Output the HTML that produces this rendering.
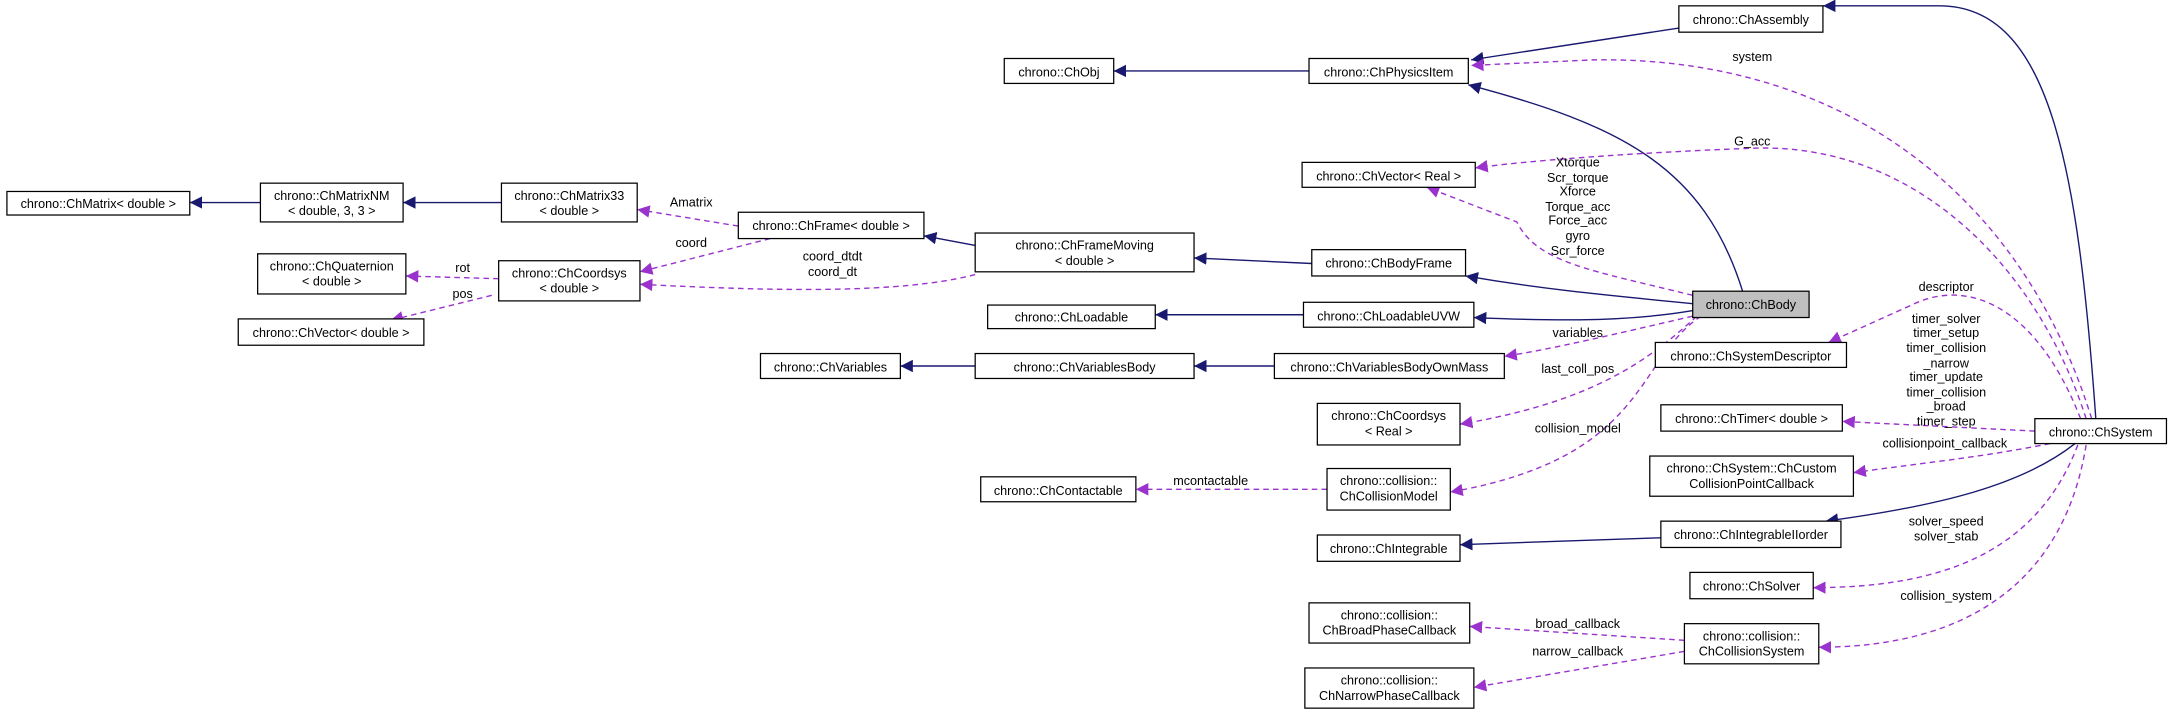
<!DOCTYPE html>
<html><head><meta charset="utf-8"><style>
html,body{margin:0;padding:0;background:#fff;}
svg{display:block;}
text{font-family:"Liberation Sans",sans-serif;font-size:9.1px;fill:#000;}
.n{fill:#fff;stroke:#000;stroke-width:0.9;}
.s{fill:none;stroke:#191970;stroke-width:1;}
.d{fill:none;stroke:#9a32cd;stroke-width:1;stroke-dasharray:4,3;}
</style></head><body>
<svg width="2172" height="714" viewBox="0 0 1568 515" xmlns="http://www.w3.org/2000/svg">
<defs>
<marker id="ab" viewBox="0 0 10 10" refX="10" refY="5" markerWidth="9" markerHeight="9" markerUnits="userSpaceOnUse" orient="auto"><path d="M0,0L10,5L0,10z" fill="#191970"/></marker>
<marker id="ap" viewBox="0 0 10 10" refX="10" refY="5" markerWidth="9" markerHeight="9" markerUnits="userSpaceOnUse" orient="auto"><path d="M0,0L10,5L0,10z" fill="#9a32cd"/></marker>
</defs>
<g text-anchor="middle">
<path class="s" marker-end="url(#ab)" d="M188,146L137,146"/>
<path class="s" marker-end="url(#ab)" d="M362,146L291,146"/>
<path class="s" marker-end="url(#ab)" d="M704,177L667,170"/>
<path class="s" marker-end="url(#ab)" d="M945,51L804,51"/>
<path class="s" marker-end="url(#ab)" d="M1212,20L1062,43"/>
<path class="s" marker-end="url(#ab)" d="M1258,210C1230,120 1170,90 1060,61"/>
<path class="s" marker-end="url(#ab)" d="M947,190L862,186"/>
<path class="s" marker-end="url(#ab)" d="M1222,219C1150,212 1110,208 1058,199"/>
<path class="s" marker-end="url(#ab)" d="M941,227L834,227"/>
<path class="s" marker-end="url(#ab)" d="M1222,224C1170,233 1110,231 1064,229"/>
<path class="s" marker-end="url(#ab)" d="M920,264L862,264"/>
<path class="s" marker-end="url(#ab)" d="M704,264L650,264"/>
<path class="s" marker-end="url(#ab)" d="M1513,302C1500,120 1480,4 1400,4L1316,4"/>
<path class="s" marker-end="url(#ab)" d="M1498,320C1460,350 1400,365 1318,376"/>
<path class="s" marker-end="url(#ab)" d="M1199,388L1054,393"/>
<path class="d" marker-end="url(#ap)" d="M533,163L460,151"/>
<path class="d" marker-end="url(#ap)" d="M556,172L462,196"/>
<path class="d" marker-end="url(#ap)" d="M704,198C650,212 560,210 462,205"/>
<path class="d" marker-end="url(#ap)" d="M360,201L293,199"/>
<path class="d" marker-end="url(#ap)" d="M355,213L282,231"/>
<path class="d" marker-end="url(#ap)" d="M1510,302C1460,140 1330,40 1150,43L1062,47"/>
<path class="d" marker-end="url(#ap)" d="M1506,302C1470,190 1380,100 1260,107C1180,110 1100,116 1065,121"/>
<path class="d" marker-end="url(#ap)" d="M1222,213C1150,195 1110,190 1095,160L1030,135"/>
<path class="d" marker-end="url(#ap)" d="M1502,302C1470,220 1420,200 1380,220L1320,247"/>
<path class="d" marker-end="url(#ap)" d="M1469,311L1330,304"/>
<path class="d" marker-end="url(#ap)" d="M1480,320C1430,330 1380,335 1338,341"/>
<path class="d" marker-end="url(#ap)" d="M1500,321C1470,400 1400,424 1309,424"/>
<path class="d" marker-end="url(#ap)" d="M1506,321C1490,420 1420,467 1313,467"/>
<path class="d" marker-end="url(#ap)" d="M1222,228C1170,240 1120,252 1086,257"/>
<path class="d" marker-end="url(#ap)" d="M1225,228C1190,260 1150,290 1054,306"/>
<path class="d" marker-end="url(#ap)" d="M1228,228C1180,260 1190,330 1047,355"/>
<path class="d" marker-end="url(#ap)" d="M958,353L820,353"/>
<path class="d" marker-end="url(#ap)" d="M1216,462L1061,452"/>
<path class="d" marker-end="url(#ap)" d="M1216,470L1064,496"/>
<rect class="n" x="5" y="138" width="132" height="17"/><text x="71" y="150">chrono::ChMatrix&lt; double &gt;</text>
<rect class="n" x="188" y="132" width="103" height="28"/><text x="239.5" y="144">chrono::ChMatrixNM</text><text x="239.5" y="155">&lt; double, 3, 3 &gt;</text>
<rect class="n" x="362" y="132" width="98" height="28"/><text x="411" y="144">chrono::ChMatrix33</text><text x="411" y="155">&lt; double &gt;</text>
<rect class="n" x="533" y="153" width="134" height="19"/><text x="600" y="166">chrono::ChFrame&lt; double &gt;</text>
<rect class="n" x="704" y="168" width="158" height="28"/><text x="783" y="180">chrono::ChFrameMoving</text><text x="783" y="191">&lt; double &gt;</text>
<rect class="n" x="360" y="188" width="102" height="29"/><text x="411" y="200">chrono::ChCoordsys</text><text x="411" y="211">&lt; double &gt;</text>
<rect class="n" x="186" y="183" width="107" height="29"/><text x="239.5" y="195">chrono::ChQuaternion</text><text x="239.5" y="206">&lt; double &gt;</text>
<rect class="n" x="172" y="230" width="134" height="19"/><text x="239" y="243">chrono::ChVector&lt; double &gt;</text>
<rect class="n" x="725" y="42" width="79" height="18"/><text x="764.5" y="55">chrono::ChObj</text>
<rect class="n" x="945" y="42" width="115" height="18"/><text x="1002.5" y="55">chrono::ChPhysicsItem</text>
<rect class="n" x="1212" y="4" width="104" height="19"/><text x="1264" y="17">chrono::ChAssembly</text>
<rect class="n" x="940" y="117" width="125" height="18"/><text x="1002.5" y="130">chrono::ChVector&lt; Real &gt;</text>
<rect class="n" x="947" y="180" width="111" height="19"/><text x="1002.5" y="193">chrono::ChBodyFrame</text>
<rect x="1222" y="210" width="84" height="19" fill="#bfbfbf" stroke="#000" stroke-width="0.9"/><text x="1264" y="223">chrono::ChBody</text>
<rect class="n" x="941" y="218" width="123" height="18"/><text x="1002.5" y="231">chrono::ChLoadableUVW</text>
<rect class="n" x="713" y="220" width="121" height="17"/><text x="773.5" y="232">chrono::ChLoadable</text>
<rect class="n" x="1195" y="247" width="138" height="18"/><text x="1264" y="260">chrono::ChSystemDescriptor</text>
<rect class="n" x="920" y="255" width="166" height="18"/><text x="1003" y="268">chrono::ChVariablesBodyOwnMass</text>
<rect class="n" x="704" y="255" width="158" height="18"/><text x="783" y="268">chrono::ChVariablesBody</text>
<rect class="n" x="549" y="255" width="101" height="18"/><text x="599.5" y="268">chrono::ChVariables</text>
<rect class="n" x="951" y="291" width="103" height="30"/><text x="1002.5" y="303">chrono::ChCoordsys</text><text x="1002.5" y="314">&lt; Real &gt;</text>
<rect class="n" x="958" y="338" width="89" height="30"/><text x="1002.5" y="350">chrono::collision::</text><text x="1002.5" y="361">ChCollisionModel</text>
<rect class="n" x="708" y="344" width="112" height="18"/><text x="764" y="357">chrono::ChContactable</text>
<rect class="n" x="951" y="386" width="103" height="19"/><text x="1002.5" y="399">chrono::ChIntegrable</text>
<rect class="n" x="1199" y="376" width="130" height="19"/><text x="1264" y="389">chrono::ChIntegrableIIorder</text>
<rect class="n" x="1199" y="292" width="131" height="19"/><text x="1264.5" y="305">chrono::ChTimer&lt; double &gt;</text>
<rect class="n" x="1191" y="329" width="147" height="29"/><text x="1264.5" y="341">chrono::ChSystem::ChCustom</text><text x="1264.5" y="352">CollisionPointCallback</text>
<rect class="n" x="1469" y="302" width="95" height="18"/><text x="1516.5" y="315">chrono::ChSystem</text>
<rect class="n" x="1220" y="413" width="89" height="19"/><text x="1264.5" y="426">chrono::ChSolver</text>
<rect class="n" x="945" y="435" width="116" height="29"/><text x="1003" y="447">chrono::collision::</text><text x="1003" y="458">ChBroadPhaseCallback</text>
<rect class="n" x="1216" y="450" width="97" height="29"/><text x="1264.5" y="462">chrono::collision::</text><text x="1264.5" y="473">ChCollisionSystem</text>
<rect class="n" x="942" y="482" width="122" height="29"/><text x="1003" y="494">chrono::collision::</text><text x="1003" y="505">ChNarrowPhaseCallback</text>
<text x="499" y="149">Amatrix</text>
<text x="499" y="178">coord</text>
<text x="601" y="188">coord_dtdt</text><text x="601" y="199">coord_dt</text>
<text x="334" y="196">rot</text>
<text x="334" y="215">pos</text>
<text x="1265" y="44">system</text>
<text x="1265" y="105">G_acc</text>
<text x="1139" y="120">Xtorque</text><text x="1139" y="131">Scr_torque</text><text x="1139" y="141">Xforce</text><text x="1139" y="152">Torque_acc</text><text x="1139" y="162">Force_acc</text><text x="1139" y="173">gyro</text><text x="1139" y="184">Scr_force</text>
<text x="1405" y="210">descriptor</text>
<text x="1405" y="233">timer_solver</text><text x="1405" y="243">timer_setup</text><text x="1405" y="254">timer_collision</text><text x="1405" y="265">_narrow</text><text x="1405" y="275">timer_update</text><text x="1405" y="286">timer_collision</text><text x="1405" y="296">_broad</text><text x="1405" y="307">timer_step</text>
<text x="1404" y="323">collisionpoint_callback</text>
<text x="1139" y="243">variables</text>
<text x="1139" y="269">last_coll_pos</text>
<text x="1139" y="312">collision_model</text>
<text x="874" y="350">mcontactable</text>
<text x="1405" y="379">solver_speed</text><text x="1405" y="390">solver_stab</text>
<text x="1405" y="433">collision_system</text>
<text x="1139" y="453">broad_callback</text>
<text x="1139" y="473">narrow_callback</text>
</g>
</svg>
</body></html>
